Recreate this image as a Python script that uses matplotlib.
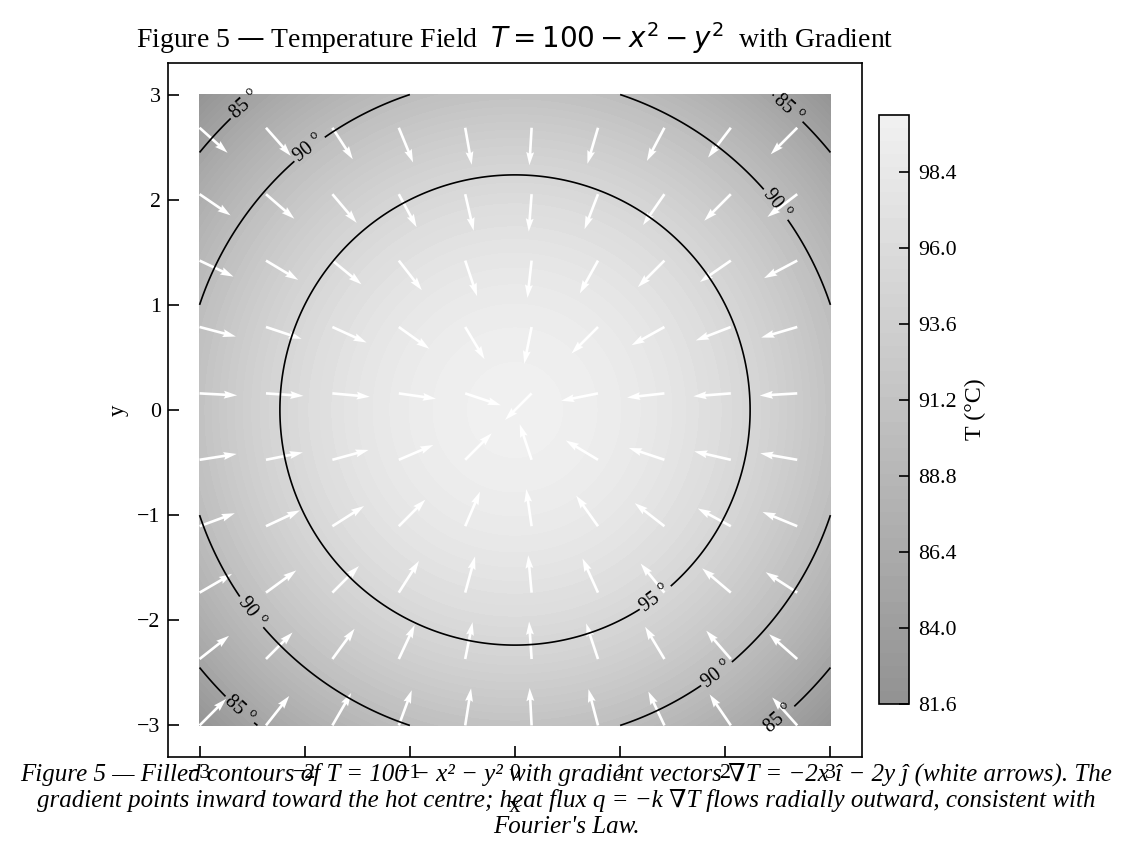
import numpy as np
import matplotlib
matplotlib.use("Agg")
import matplotlib.pyplot as plt
from matplotlib.colors import LinearSegmentedColormap

plt.rcParams['font.family'] = 'serif'
plt.rcParams['font.serif'] = ['Liberation Serif']
plt.rcParams['mathtext.fontset'] = 'dejavusans'

# temperature field T = T0 - x^2 - y^2 on [-3, 3]^2
T0 = 100.0
x_min, x_max = -3.0, 3.0
n_grid = 200
n_quiver = 20          # quiver grid, every 2nd point used
contour_levels = [85, 90, 95]
cbar_lo, cbar_hi, n_levels = 81.6, 100.2, 47
cbar_ticks = [81.6, 84.0, 86.4, 88.8, 91.2, 93.6, 96.0, 98.4]

# clabel positions (data coords)
label_pos = [(-2.57, 2.90), (2.62, 2.89), (-2.60, -2.83), (2.50, -2.92),
             (-1.97, 2.50), (2.50, 1.97), (-2.48, -1.90), (1.91, -2.50),
             (1.33, -1.78)]

xs = np.linspace(x_min, x_max, n_grid)
X, Y = np.meshgrid(xs, xs)
T = T0 - X**2 - Y**2

qs = np.linspace(x_min, x_max, n_quiver)[::2]
QX, QY = np.meshgrid(qs, qs)
gx, gy = -2 * QX, -2 * QY
mag = np.hypot(gx, gy)
U, V = gx / mag, gy / mag

cmap = LinearSegmentedColormap.from_list('soft_gray', ['#929292', '#f1f1f1'])

fig = plt.figure(figsize=(1133 / 150, 858 / 150), dpi=150)
ax = fig.add_axes([0.1483, 0.1177, 0.6125, 0.8089])
cax = fig.add_axes([0.7758, 0.1795, 0.0265, 0.6861])

cf = ax.contourf(X, Y, T, levels=np.linspace(cbar_lo, cbar_hi, n_levels), cmap=cmap)
cs = ax.contour(X, Y, T, levels=contour_levels, colors='k', linewidths=0.8)
ax.clabel(cs, fmt='%d °', fontsize=9.5, manual=label_pos, inline=True)
ax.quiver(QX, QY, U, V, color='white', angles='xy', scale_units='xy', scale=2.8,
          width=0.0038, pivot='tail')

ax.set_xlim(-3.3, 3.3)
ax.set_ylim(-3.3, 3.3)
ax.set_aspect('equal')
ax.set_xticks(range(-3, 4))
ax.set_yticks(range(-3, 4))
ax.tick_params(direction='in', length=5.5, labelsize=10.5)
ax.set_xlabel('x', fontsize=11, labelpad=6)
ax.set_ylabel('y', fontsize=11)
ax.set_title('Figure 5 — Temperature Field  $T = 100 - x^2 - y^2$  with Gradient',
             fontsize=13.3, pad=7)

cbar = fig.colorbar(cf, cax=cax)
cbar.set_ticks(cbar_ticks)
cbar.set_ticklabels([f'{t:.1f}' for t in cbar_ticks])
cbar.ax.tick_params(direction='in', length=5, labelsize=10.5, pad=4.5)
cbar.set_label('T (°C)', fontsize=11.5)

caption = ("Figure 5 — Filled contours of T = 100 − x² − y² with gradient vectors ∇T = −2x î − 2y ĵ (white arrows). The\n"
           "gradient points inward toward the hot centre; heat flux q = −k ∇T flows radially outward, consistent with\n"
           "Fourier's Law.")
fig.text(0.5, 0.0676, caption, ha='center', va='center', fontsize=12,
         style='italic', linespacing=1.2,
         family=['Liberation Serif', 'DejaVu Serif'])

fig.savefig('out.png', dpi=150)
